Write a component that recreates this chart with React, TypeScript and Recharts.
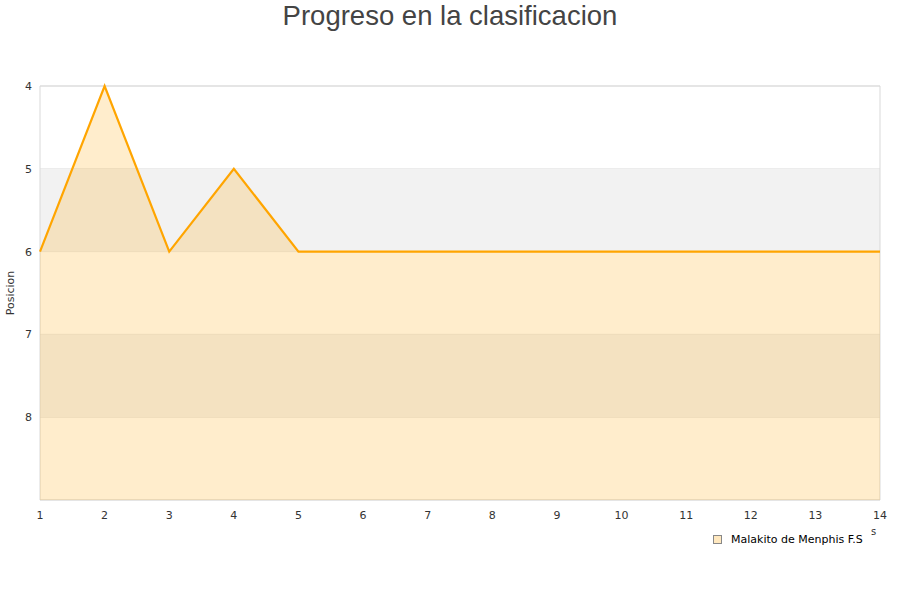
import React from 'react';
import {
  AreaChart,
  Area,
  XAxis,
  YAxis,
  CartesianGrid,
  ReferenceArea,
} from 'recharts';

const jornadas = [1, 2, 3, 4, 5, 6, 7, 8, 9, 10, 11, 12, 13, 14];
const posiciones = [6, 4, 6, 5, 6, 6, 6, 6, 6, 6, 6, 6, 6, 6];
const posicionTicks = [4, 5, 6, 7, 8];
const equipo = 'Malakito de Menphis F.S';

const data = jornadas.map((j, i) => ({ jornada: j, posicion: posiciones[i] }));

const tickStyle = { fontSize: 11, fill: '#333', fontFamily: 'DejaVu Sans' };

const App: React.FC = () => {
  return (
    <div style={{ position: 'absolute', left: 0, top: 0, width: 900, height: 600, background: '#fff' }}>
      <div
        style={{
          position: 'absolute',
          top: 0,
          width: 900,
          textAlign: 'center',
          fontFamily: '"Liberation Sans", Arial, sans-serif',
          fontSize: 27.5,
          color: '#444',
          lineHeight: '32px',
        }}
      >
        Progreso en la clasificacion
      </div>

      <AreaChart
        width={900}
        height={600}
        data={data}
        margin={{ top: 86, right: 20, left: 0, bottom: 70 }}
      >
        {/* bandas alternas del fondo */}
        <ReferenceArea y1={5} y2={6} fill="#f2f2f2" fillOpacity={1} stroke="none" />
        <ReferenceArea y1={7} y2={8} fill="#f2f2f2" fillOpacity={1} stroke="none" />
        <CartesianGrid vertical={false} stroke="#e2e2e2" strokeDasharray="" />
        <ReferenceArea
          x1={1}
          x2={14}
          y1={4}
          y2={9}
          fill="none"
          stroke="#d9d9d9"
          strokeOpacity={1}
        />
        <XAxis
          dataKey="jornada"
          type="number"
          domain={[1, 14]}
          ticks={jornadas}
          interval={0}
          height={30}
          axisLine={false}
          tickLine={false}
          tickMargin={5}
          tick={tickStyle}
        />
        <YAxis
          type="number"
          reversed
          domain={[4, 9]}
          ticks={posicionTicks}
          interval={0}
          width={40}
          axisLine={false}
          tickLine={false}
          tick={tickStyle}
          label={{
            value: 'Posicion',
            angle: -90,
            position: 'insideLeft',
            offset: 10,
            style: { textAnchor: 'middle', fontSize: 11, fill: '#333', fontFamily: 'DejaVu Sans' },
          }}
        />
        <Area
          type="linear"
          dataKey="posicion"
          baseValue={9}
          stroke="#ffa500"
          strokeWidth={2.2}
          fill="#ffa500"
          fillOpacity={0.2}
          dot={false}
          activeDot={false}
          isAnimationActive={false}
        />
      </AreaChart>

      <span
        style={{
          position: 'absolute',
          left: 871,
          top: 526,
          fontSize: 10,
          color: '#333',
          fontFamily: 'DejaVu Sans',
        }}
      >
        s
      </span>

      <div
        style={{
          position: 'absolute',
          left: 713,
          top: 533,
          display: 'flex',
          alignItems: 'center',
          fontFamily: 'DejaVu Sans',
          fontSize: 11,
          color: '#000',
        }}
      >
        <span
          style={{
            display: 'inline-block',
            width: 7,
            height: 7,
            background: '#ffe8bf',
            border: '1px solid #888',
            marginRight: 9,
          }}
        />
        {equipo}
      </div>
    </div>
  );
};

export default App;
